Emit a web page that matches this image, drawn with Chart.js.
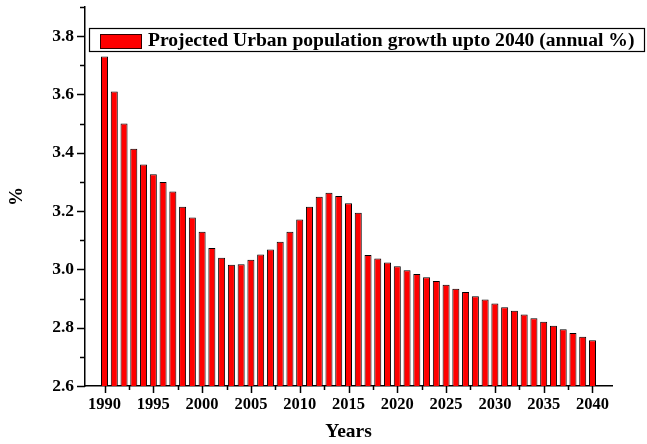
<!DOCTYPE html>
<html>
<head>
<meta charset="utf-8">
<script src="https://cdn.jsdelivr.net/npm/chart.js@4/dist/chart.umd.min.js"></script>
<style>
    html, body { margin: 0; padding: 0; background: #fff; }
    #wrap { width: 647px; height: 444px; }
</style>
</head>
<body>
<div id="wrap"><canvas id="growth-chart"></canvas></div>
<script>
const years = [];
for (let y = 1990; y <= 2040; y++) years.push(y);

// annual urban population growth, %
const growth = [
    3.73, 3.61, 3.50, 3.414, 3.36, 3.326, 3.30, 3.267, 3.215, 3.178,
    3.129, 3.073, 3.04, 3.016, 3.018, 3.033, 3.051, 3.068, 3.095, 3.129,
    3.171, 3.215, 3.249, 3.263, 3.252, 3.227, 3.194, 3.049, 3.037, 3.024,
    3.011, 2.997, 2.984, 2.973, 2.96, 2.947, 2.934, 2.922, 2.908, 2.897,
    2.883, 2.870, 2.858, 2.845, 2.832, 2.82, 2.807, 2.795, 2.782, 2.769,
    2.757
];

const xTicks = [1990, 1995, 2000, 2005, 2010, 2015, 2020, 2025, 2030, 2035, 2040];
const yTicks = [2.6, 2.8, 3.0, 3.2, 3.4, 3.6, 3.8];
const seriesLabel = 'Projected Urban population growth upto 2040 (annual %)';

const serif = '"Liberation Serif", "Times New Roman", serif';

// outward tick marks, long on labelled values, short halfway between
const tickMarks = {
    id: 'tickMarks',
    afterDraw(chart) {
        const ctx = chart.ctx;
        const xs = chart.scales.x, ys = chart.scales.y;
        const area = chart.chartArea;
        ctx.save();
        ctx.strokeStyle = '#000';
        ctx.lineWidth = 1.5;
        ctx.beginPath();
        xTicks.forEach((v, i) => {
            let px = Math.round(xs.getPixelForValue(v)) + 0.5;
            ctx.moveTo(px, area.bottom);
            ctx.lineTo(px, area.bottom + 7);
            if (i < xTicks.length - 1) {
                px = Math.round(xs.getPixelForValue(v + 2.5)) + 0.5;
                ctx.moveTo(px, area.bottom);
                ctx.lineTo(px, area.bottom + 4);
            }
        });
        yTicks.forEach(v => {
            let py = Math.round(ys.getPixelForValue(v)) + 0.5;
            ctx.moveTo(area.left, py);
            ctx.lineTo(area.left - 8, py);
            py = Math.round(ys.getPixelForValue(v + 0.1)) + 0.5;
            ctx.moveTo(area.left, py);
            ctx.lineTo(area.left - 5, py);
        });
        ctx.stroke();
        ctx.restore();
    }
};

// boxed legend sitting inside the plot, top right
const boxLegend = {
    id: 'boxLegend',
    afterDraw(chart) {
        const ctx = chart.ctx;
        const ds = chart.data.datasets[0];
        const x0 = 89, y0 = 28, w = 556, h = 24;
        ctx.save();
        ctx.fillStyle = '#fff';
        ctx.fillRect(x0, y0, w, h);
        ctx.strokeStyle = '#000';
        ctx.lineWidth = 1.2;
        ctx.strokeRect(x0 + 0.5, y0 + 0.5, w - 1, h - 1);
        ctx.fillStyle = ds.backgroundColor;
        ctx.fillRect(100, 34, 42, 15);
        ctx.lineWidth = 1;
        ctx.strokeStyle = '#300';
        ctx.strokeRect(100.5, 34.5, 41, 14);
        ctx.fillStyle = '#000';
        ctx.font = 'bold 19.6px ' + serif;
        ctx.textBaseline = 'middle';
        ctx.fillText(ds.label, 148, y0 + h / 2 + 1);
        ctx.restore();
    }
};

new Chart(document.getElementById('growth-chart'), {
    type: 'bar',
    data: {
        datasets: [{
            label: seriesLabel,
            data: years.map((yr, i) => ({ x: yr, y: growth[i] })),
            backgroundColor: '#ff0000',
            borderColor: '#000',
            borderWidth: 1,
            barPercentage: 0.72,
            categoryPercentage: 1
        }]
    },
    options: {
        responsive: true,
        maintainAspectRatio: false,
        animation: false,
        layout: { padding: { top: 7, right: 35, left: 0, bottom: 0 } },
        plugins: {
            legend: { display: false },
            tooltip: { enabled: false }
        },
        scales: {
            x: {
                type: 'linear',
                min: 1988,
                max: 2042,
                offset: false,
                grid: { drawOnChartArea: false, drawTicks: false },
                border: { display: true, color: '#000', width: 1.5 },
                afterBuildTicks: s => { s.ticks = xTicks.map(v => ({ value: v })); },
                afterFit: s => {
                    s.height = 58;
                    s.paddingLeft = 0;
                    s.paddingRight = 0;
                },
                ticks: {
                    padding: 9,
                    color: '#000',
                    maxRotation: 0,
                    autoSkip: false,
                    font: { family: serif, size: 16.5, weight: 'bold' },
                    callback: v => String(v)
                },
                title: {
                    display: true,
                    text: 'Years',
                    color: '#000',
                    padding: { top: 0, bottom: 0 },
                    font: { family: serif, size: 19.5, weight: 'bold' }
                }
            },
            y: {
                min: 2.6,
                max: 3.9,
                grid: { drawOnChartArea: false, drawTicks: false },
                border: { display: true, color: '#000', width: 1.5 },
                afterBuildTicks: s => { s.ticks = yTicks.map(v => ({ value: v })); },
                afterFit: s => {
                    s.width = 85;
                    s.paddingTop = 0;
                    s.paddingBottom = 0;
                },
                ticks: {
                    padding: 11,
                    color: '#000',
                    font: { family: serif, size: 17.5, weight: 'bold' },
                    callback: v => Number(v).toFixed(1)
                },
                title: {
                    display: true,
                    text: '%',
                    color: '#000',
                    padding: { top: 6, bottom: 0 },
                    font: { family: serif, size: 19, weight: 'bold' }
                }
            }
        }
    },
    plugins: [tickMarks, boxLegend]
});
</script>
</body>
</html>
